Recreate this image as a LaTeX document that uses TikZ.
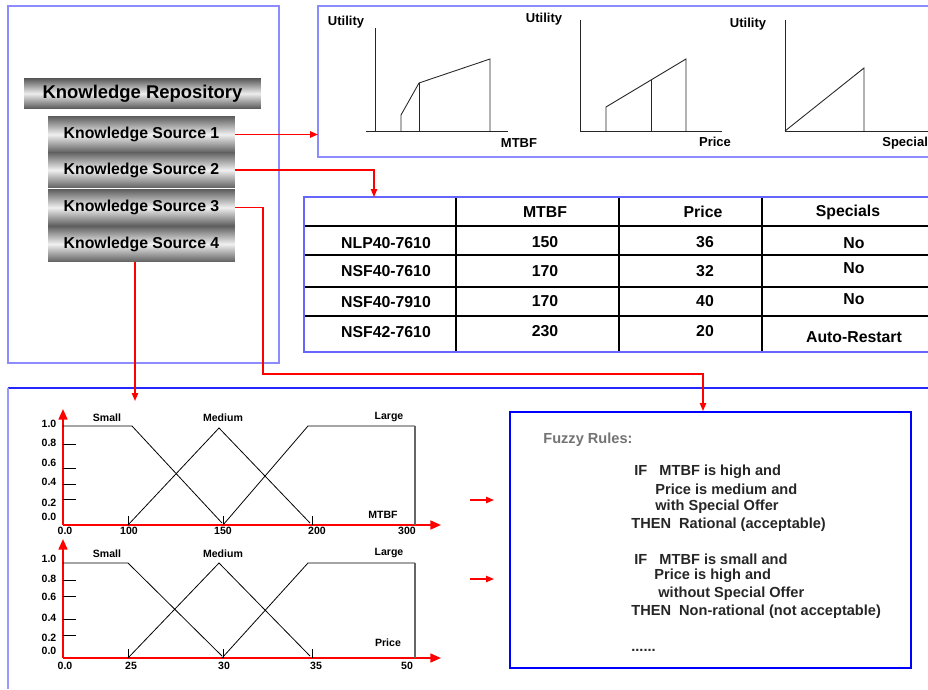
\documentclass[tikz,border=0pt]{standalone}
\usepackage{fontspec}
\setmainfont{Liberation Sans}
\usetikzlibrary{arrows.meta, positioning, calc}
\tikzset{
  redarr/.style  = {-{Triangle[length=4.5pt, width=3.6pt]}, draw=red, line width=0.75pt},
  axisarr/.style = {-{Triangle[length=6pt, width=5pt]}, draw=red, line width=1.1pt},
  panel/.style   = {draw=blue!45, line width=0.6pt},
  tline/.style   = {draw=black, line width=0.6pt},
  uline/.style   = {draw=black!85, line width=0.5pt},
  mfline/.style  = {draw=black, line width=0.45pt},
  tickln/.style  = {draw=black, line width=0.5pt},
  %% Bar presets
  repbar/.style = {top color=black!65, bottom color=black!65, middle color=black!7,
                   minimum width=4.74cm, minimum height=0.6cm, inner sep=0pt,
                   font=\fontsize{10.5}{12}\selectfont\bfseries},
  srcbar/.style = {top color=black!62, bottom color=black!62, middle color=black!6,
                   minimum width=3.74cm, minimum height=0.71cm, inner sep=0pt,
                   font=\fontsize{9}{11}\selectfont\bfseries},
  %% Text presets
  ulabel/.style  = {inner sep=0pt, font=\fontsize{7.4}{9}\selectfont\bfseries},
  tcell/.style   = {inner sep=0pt, font=\fontsize{9}{11}\selectfont\bfseries},
  fzlabel/.style = {inner sep=0pt, font=\fontsize{6}{7}\selectfont\bfseries},
  rtext/.style   = {inner sep=0pt, anchor=west, text=black!85,
                    font=\fontsize{8.3}{10}\selectfont\bfseries},
  rulesbox/.style = {draw=blue, line width=1.3pt, minimum width=8.02cm,
                     minimum height=5.12cm, inner sep=0pt},
}

\begin{document}
\begin{tikzpicture}[x=0.02cm, y=-0.02cm]
\useasboundingbox (0,0) rectangle (928,689);

%% ---- (1) Knowledge repository panel ----
\draw[panel] (8,6) rectangle (279,363);
\node[repbar] (repo) at (142.5,93.5) {Knowledge Repository};
\node[srcbar] (ks1) at (141.5,134.5) {Knowledge Source 1};
\node[srcbar] (ks2) at (141.5,170)   {Knowledge Source 2};
\node[srcbar] (ks3) at (141.5,207.5) {Knowledge Source 3};
\node[srcbar] (ks4) at (141.5,244)   {Knowledge Source 4};

%% ---- (2) Utility functions panel ----
\draw[panel] (928,6) -- (318,6) -- (318,157) -- (928,157);
\coordinate (utilin) at (318,133);

\node[ulabel] (util1) at (346,22) {Utility};
\draw[uline] (375,28) -- (375,131);
\draw[uline] (366,131) -- (508,131);
\draw[uline] (401,131) -- (401,115) -- (419,83) -- (490,59) -- (490,131);
\draw[uline] (419,83) -- (419,131);
\node[ulabel] (uxmtbf) at (519,143) {MTBF};

\node[ulabel] (util2) at (544,19) {Utility};
\draw[uline] (580,20) -- (580,131);
\draw[uline] (580,131) -- (722,131);
\draw[uline] (606,131) -- (606,107) -- (686,59) -- (686,131);
\draw[uline] (651,80) -- (651,131);
\node[ulabel] (uxprice) at (715,142) {Price};

\node[ulabel] (util3) at (748,24) {Utility};
\draw[uline] (785,20) -- (785,131);
\draw[uline] (785,131) -- (928,131);
\draw[uline] (785,131) -- (864,68) -- (864,131);
\node[ulabel, anchor=west] (uxspec) at (882,143) {Special};

%% ---- (3) Product table ----
\coordinate (tblin) at (374,197);
\draw[tline] (456,197) -- (456,352);
\draw[tline] (619,197) -- (619,352);
\draw[tline] (762,197) -- (762,352);
\draw[tline] (304,226) -- (928,226);
\draw[tline] (304,255) -- (928,255);
\draw[tline] (304,287) -- (928,287);
\draw[tline] (304,316) -- (928,316);
\draw[draw=blue!60, line width=0.7pt] (928,197) -- (304,197) -- (304,352) -- (928,352);

\node[tcell] (hmtbf)  at (545,212) {MTBF};
\node[tcell] (hprice) at (703,212) {Price};
\node[tcell] (hspec)  at (848,212) {Specials};

\node[tcell] (n1) at (386,243) {NLP40-7610};
\node[tcell] (m1) at (545,242) {150};
\node[tcell] (p1) at (705,242) {36};
\node[tcell] (s1) at (854,243) {No};

\node[tcell] (n2) at (386,271) {NSF40-7610};
\node[tcell] (m2) at (545,271) {170};
\node[tcell] (p2) at (705,271) {32};
\node[tcell] (s2) at (854,268) {No};

\node[tcell] (n3) at (386,302) {NSF40-7910};
\node[tcell] (m3) at (545,301) {170};
\node[tcell] (p3) at (705,301) {40};
\node[tcell] (s3) at (854,299) {No};

\node[tcell] (n4) at (386,332) {NSF42-7610};
\node[tcell] (m4) at (545,331) {230};
\node[tcell] (p4) at (705,331) {20};
\node[tcell] (s4) at (854,337) {Auto-Restart};

%% ---- (4) Fuzzy panel ----
\draw[draw=blue!85, line width=0.6pt] (8,388) -- (928,388);
\draw[draw=blue!40, line width=1.3pt] (8,388) -- (8,689);
\coordinate (fuzzin) at (135,401);
\coordinate (ks3bend) at (263,374);

%% MTBF membership chart
\draw[axisarr] (63,525) -- (63,409);
\draw[axisarr] (63,525) -- (441,525);
\draw[tickln] (63,444) -- (76,444);
\draw[tickln] (63,468) -- (76,468);
\draw[tickln] (63,484) -- (76,484);
\draw[tickln] (63,499) -- (76,499);
\draw[tickln] (128,516) -- (128,525);
\draw[tickln] (223,516) -- (223,525);
\draw[tickln] (312,516) -- (312,525);
\draw[mfline] (63,426) -- (132,426) -- (222,523);
\draw[mfline] (128,525) -- (219,428) -- (310,523);
\draw[mfline] (223,525) -- (308,426) -- (415,426);
\draw[draw=black!60, line width=0.7pt] (415,426) -- (415,525);

\node[fzlabel] (ya1) at (49,424) {1.0};
\node[fzlabel] (ya2) at (49,443) {0.8};
\node[fzlabel] (ya3) at (49,463) {0.6};
\node[fzlabel] (ya4) at (49,482) {0.4};
\node[fzlabel] (ya5) at (49,503) {0.2};
\node[fzlabel] (ya6) at (49,517) {0.0};
\node[fzlabel] (xa1) at (65,531)  {0.0};
\node[fzlabel] (xa2) at (129,531) {100};
\node[fzlabel] (xa3) at (223,531) {150};
\node[fzlabel] (xa4) at (317,531) {200};
\node[fzlabel] (xa5) at (407,531) {300};
\node[fzlabel] (asmall)  at (107,418) {Small};
\node[fzlabel] (amedium) at (223,418) {Medium};
\node[fzlabel] (alarge)  at (389,417) {Large};
\node[fzlabel] (amtbf)   at (383,515) {MTBF};

%% Price membership chart
\draw[axisarr] (63,658) -- (63,539);
\draw[axisarr] (63,658) -- (441,658);
\draw[tickln] (63,580) -- (76,580);
\draw[tickln] (63,596) -- (76,596);
\draw[tickln] (63,619) -- (76,619);
\draw[tickln] (63,635) -- (76,635);
\draw[tickln] (128,649) -- (128,658);
\draw[tickln] (223,649) -- (223,658);
\draw[tickln] (312,649) -- (312,658);
\draw[mfline] (63,563) -- (128,563) -- (222,656);
\draw[mfline] (128,658) -- (219,563) -- (310,656);
\draw[mfline] (222,658) -- (308,563) -- (415,563);
\draw[draw=black!60, line width=0.7pt] (415,563) -- (415,658);

\node[fzlabel] (yb1) at (49,559) {1.0};
\node[fzlabel] (yb2) at (49,579) {0.8};
\node[fzlabel] (yb3) at (49,597) {0.6};
\node[fzlabel] (yb4) at (49,618) {0.4};
\node[fzlabel] (yb5) at (49,638) {0.2};
\node[fzlabel] (yb6) at (49,651) {0.0};
\node[fzlabel] (xb1) at (65,666)  {0.0};
\node[fzlabel] (xb2) at (131,666) {25};
\node[fzlabel] (xb3) at (224,666) {30};
\node[fzlabel] (xb4) at (316,666) {35};
\node[fzlabel] (xb5) at (407,666) {50};
\node[fzlabel] (bsmall)  at (107,554) {Small};
\node[fzlabel] (bmedium) at (223,554) {Medium};
\node[fzlabel] (blarge)  at (389,553) {Large};
\node[fzlabel] (bprice)  at (388,643) {Price};

%% ---- (5) Fuzzy rules ----
\node[rulesbox] (rules) at (710.5,540) {};
\node[rtext, text=black!55] (rtitle) at (543,440) {Fuzzy Rules:};
\node[rtext] (r1a) at (634,472) {IF\ \ \ MTBF is high and};
\node[rtext] (r1b) at (655,489) {Price is medium and};
\node[rtext] (r1c) at (655,507) {with Special Offer};
\node[rtext] (r1d) at (631,525) {THEN\ \ Rational (acceptable)};
\node[rtext] (r2a) at (634,559) {IF\ \ \ MTBF is small and};
\node[rtext] (r2b) at (654,576) {Price is high and};
\node[rtext] (r2c) at (658,594) {without Special Offer};
\node[rtext] (r2d) at (631,612) {THEN\ \ Non-rational (not acceptable)};
\node[rtext] (rdots) at (631,650) {......};

\coordinate (rulesin) at (703,411);
\coordinate (mf1out) at (470,500);
\coordinate (mf1in)  at (494,500);
\coordinate (mf2out) at (470,579);
\coordinate (mf2in)  at (494,579);

%% ---- Connectors ----
\draw[redarr] (ks1.east) -- (ks1.east -| utilin);
\draw[redarr] (ks2.east) -| (tblin);
\draw[redarr] (ks3.east) -| (ks3bend) -| (rulesin);
\draw[redarr] (ks4.south -| fuzzin) -- (fuzzin);
\draw[redarr] (mf1out) -- (mf1in);
\draw[redarr] (mf2out) -- (mf2in);

\end{tikzpicture}
\end{document}
